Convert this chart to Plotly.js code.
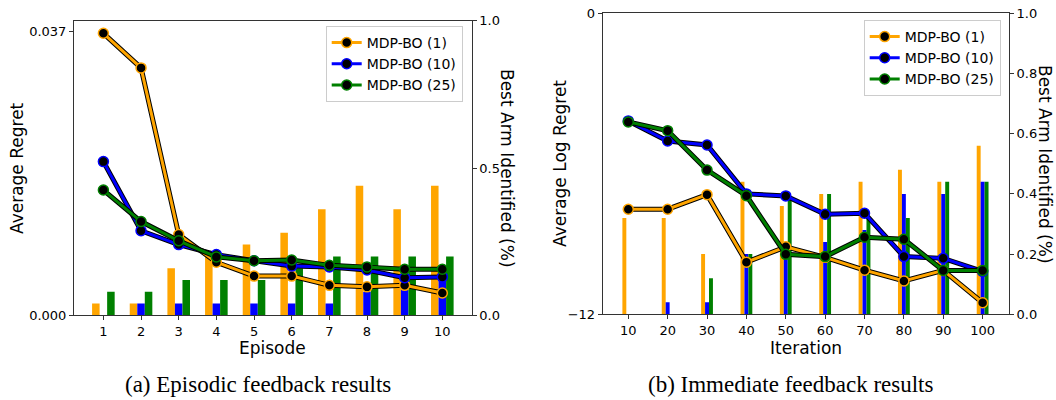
<!DOCTYPE html>
<html>
<head>
<meta charset="utf-8">
<script src="https://cdn.plot.ly/plotly-3.0.1.min.js"></script>
<style>html,body{margin:0;padding:0;background:#fff;}#chart{width:1056px;height:400px;}</style>
</head>
<body>
<div id="chart"></div>
<script>
// ---- Data: (a) Episodic feedback ----
const episodes = [1,2,3,4,5,6,7,8,9,10];
const regretEp1  = [0.0367,0.0322,0.0105,0.0069,0.0051,0.0051,0.0039,0.0037,0.0039,0.0029];
const regretEp10 = [0.0200,0.0110,0.0092,0.0079,0.0071,0.0064,0.0063,0.0059,0.0049,0.0050];
const regretEp25 = [0.0163,0.0122,0.0097,0.0076,0.0071,0.0072,0.0065,0.0063,0.0060,0.0060];
const bestEp1  = [0.04,0.04,0.16,0.20,0.24,0.28,0.36,0.44,0.36,0.44];
const bestEp10 = [0.00,0.04,0.04,0.04,0.04,0.04,0.04,0.08,0.12,0.12];
const bestEp25 = [0.08,0.08,0.12,0.12,0.12,0.16,0.20,0.20,0.20,0.20];

// ---- Data: (b) Immediate feedback ----
const iterations = [10,20,30,40,50,60,70,80,90,100];
const logRegIt1  = [-7.81,-7.81,-7.23,-9.92,-9.31,-9.73,-10.24,-10.67,-10.25,-11.54];
const logRegIt10 = [-4.29,-5.09,-5.25,-7.20,-7.28,-8.01,-7.97,-9.70,-9.77,-10.29];
const logRegIt25 = [-4.33,-4.68,-6.25,-7.27,-9.61,-9.70,-8.93,-9.01,-10.25,-10.25];
const bestIt1  = [0.32,0.32,0.20,0.44,0.36,0.40,0.44,0.48,0.44,0.56];
const bestIt10 = [0.00,0.04,0.04,0.20,0.20,0.24,0.28,0.40,0.40,0.44];
const bestIt25 = [0.00,0.00,0.12,0.20,0.38,0.40,0.32,0.32,0.44,0.44];

const seriesNames = ['MDP-BO (1)','MDP-BO (10)','MDP-BO (25)'];
const colors = ['#FFA500','#0000FF','#008000'];

const W = 1056, H = 400;
const px = v => v / W;
const py = v => 1 - v / H;

const traces = [];
// Bars (left subplot, base axis y)
[bestEp1,bestEp10,bestEp25].forEach((vals,i)=>{
  traces.push({type:'bar', x:episodes, y:vals, xaxis:'x', yaxis:'y',
    width:0.2, offset:-0.3+0.2*i, marker:{color:colors[i], line:{width:0}},
    showlegend:false, hoverinfo:'skip'});
});
// Bars (right subplot, base axis y3)
[bestIt1,bestIt10,bestIt25].forEach((vals,i)=>{
  traces.push({type:'bar', x:iterations, y:vals, xaxis:'x2', yaxis:'y3',
    width:1.0, offset:-1.5+1.0*i, marker:{color:colors[i], line:{width:0}},
    showlegend:false, hoverinfo:'skip'});
});
// Lines left
const leftLines = [regretEp1,regretEp10,regretEp25];
leftLines.forEach((vals,i)=>{
  traces.push({type:'scatter', mode:'lines', x:episodes, y:vals, xaxis:'x', yaxis:'y2',
    line:{color:'#000', width:5}, showlegend:false, hoverinfo:'skip'});
  traces.push({type:'scatter', mode:'lines+markers', x:episodes, y:vals, xaxis:'x', yaxis:'y2',
    name:seriesNames[i], legend:'legend',
    line:{color:colors[i], width:3},
    marker:{color:'#000', size:10, line:{color:colors[i], width:1.5}}});
});
// Lines right
const rightLines = [logRegIt1,logRegIt10,logRegIt25];
rightLines.forEach((vals,i)=>{
  traces.push({type:'scatter', mode:'lines', x:iterations, y:vals, xaxis:'x2', yaxis:'y4',
    line:{color:'#000', width:5}, showlegend:false, hoverinfo:'skip'});
  traces.push({type:'scatter', mode:'lines+markers', x:iterations, y:vals, xaxis:'x2', yaxis:'y4',
    name:seriesNames[i], legend:'legend2',
    line:{color:colors[i], width:3},
    marker:{color:'#000', size:10, line:{color:colors[i], width:1.5}}});
});

const tickFont = {family:'DejaVu Sans', size:13, color:'#000'};
const axBase = {showgrid:false, zeroline:false, showline:true, linecolor:'#333', linewidth:1,
  ticks:'outside', ticklen:4, tickcolor:'#333', tickfont:tickFont, fixedrange:true};

function ann(text, x, y, size, angle, family) {
  return {text:text, x:px(x), y:py(y), xref:'paper', yref:'paper', showarrow:false,
    xanchor:'center', yanchor:'middle', textangle:angle || 0,
    font:{family:family || 'DejaVu Sans', size:size, color:'#000'}};
}

const layout = {
  width:W, height:H, margin:{l:0,r:0,t:0,b:0},
  paper_bgcolor:'#fff', plot_bgcolor:'rgba(0,0,0,0)',
  barmode:'overlay',
  font:{family:'DejaVu Sans', color:'#000'},
  xaxis: Object.assign({}, axBase, {domain:[px(74), px(471.7)], range:[0.22,10.78], anchor:'y',
    tickvals:episodes, ticktext:episodes.map(String), mirror:true}),
  yaxis: Object.assign({}, axBase, {domain:[py(315.3), py(20.7)], range:[0,1.0], side:'right', anchor:'x',
    tickvals:[0,0.5,1.0], ticktext:['0.0','0.5','1.0']}),
  yaxis2: Object.assign({}, axBase, {overlaying:'y', side:'left', anchor:'x', range:[0,0.03834],
    tickvals:[0,0.037], ticktext:['0.000','0.037']}),
  xaxis2: Object.assign({}, axBase, {domain:[px(602.7), px(1009)], range:[3.5,106.7], anchor:'y3',
    tickvals:iterations, ticktext:iterations.map(String), mirror:true}),
  yaxis3: Object.assign({}, axBase, {domain:[py(314.3), py(13.3)], range:[0,1.0], side:'right', anchor:'x2',
    tickvals:[0,0.2,0.4,0.6,0.8,1.0], ticktext:['0.0','0.2','0.4','0.6','0.8','1.0']}),
  yaxis4: Object.assign({}, axBase, {overlaying:'y3', side:'left', anchor:'x2', range:[-12,0],
    tickvals:[-12,0], ticktext:['\u221212','0']}),
  legend: {x:px(462.7), y:py(26), xanchor:'right', yanchor:'top', bgcolor:'rgba(255,255,255,0.9)',
    bordercolor:'#ccc', borderwidth:1, font:{family:'DejaVu Sans', size:14, color:'#000'}, tracegroupgap:0},
  legend2: {x:px(1000.7), y:py(20), xanchor:'right', yanchor:'top', bgcolor:'rgba(255,255,255,0.9)',
    bordercolor:'#ccc', borderwidth:1, font:{family:'DejaVu Sans', size:14, color:'#000'}, tracegroupgap:0},
  annotations: [
    ann('Average Regret', 17, 168, 17, -90),
    ann('Best Arm Identified (%)', 507, 168, 17, 90),
    ann('Episode', 272, 348, 17),
    ann('Average Log Regret', 560, 164, 17, -90),
    ann('Best Arm Identified (%)', 1045, 164, 17, 90),
    ann('Iteration', 806, 348, 17),
    ann('(a) Episodic feedback results', 258, 384, 23, 0, 'Liberation Serif'),
    ann('(b) Immediate feedback results', 791, 384, 23, 0, 'Liberation Serif')
  ]
};

Plotly.newPlot('chart', traces, layout, {staticPlot:true, displayModeBar:false});
</script>
</body>
</html>
